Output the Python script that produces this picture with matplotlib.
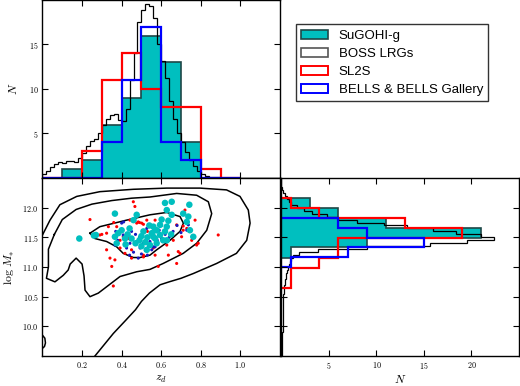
import numpy as np
import matplotlib
matplotlib.use("Agg")
import matplotlib.pyplot as plt
from matplotlib.patches import Patch
from matplotlib.ticker import FuncFormatter

plt.rcParams['mathtext.fontset'] = 'cm'

# ---------------- data ----------------
# redshift histograms (bins of 0.1)
z_edges = [0.0, 0.1, 0.2, 0.3, 0.4, 0.5, 0.6, 0.7, 0.8, 0.9, 1.0]
sugohi_z = [0, 1, 2, 6, 9, 16, 13, 4, 0, 0]
sl2s_z = [0, 0, 3, 11, 14, 10, 8, 8, 1, 0]
bells_z = [0, 0, 0, 4, 11, 17, 4, 2, 0, 0]

# BOSS LRG redshift distribution (scaled), bins of 0.02 from 0 to 1.2
boss_z_edges = [round(0.02 * i, 2) for i in range(61)]
boss_z = [0.4, 0.8, 1.2, 1.6, 1.85, 1.7, 1.9, 1.95, 1.85, 2.2,
          2.8, 3.6, 4.1, 4.4, 5.1, 6.0, 6.6, 7.1, 7.2, 6.5,
          6.4, 7.8, 11.0, 14.0, 17.5, 18.9, 19.6, 19.3, 18.0, 15.0,
          13.2, 11.2, 8.6, 6.6, 5.0, 4.0, 2.9, 2.0, 1.4, 0.8,
          0.45, 0.25, 0.15, 0.1, 0.06, 0.05, 0.04, 0.03, 0.03, 0.02,
          0.02, 0.02, 0.01, 0.01, 0.01, 0.01, 0.0, 0.0, 0.0, 0.0]

# stellar-mass histograms
sugohi_m_edges = [11.16, 11.33, 11.49, 11.66, 11.82, 11.99, 12.16]
sugohi_m = [1, 9, 21, 11, 6, 3]
sl2s_m_edges = [10.65, 10.82, 10.99, 11.16, 11.32, 11.49, 11.66, 11.83, 12.00, 12.17]
sl2s_m = [1, 1, 4, 6, 6, 19, 13, 4, 1]
bells_m_edges = [11.00, 11.165, 11.33, 11.495, 11.66, 11.826]
bells_m = [1, 7, 15, 9, 6]

# BOSS LRG stellar-mass distribution (scaled), bins of 0.05 from 9.5 to 12.5
boss_m_edges = [round(9.5 + 0.05 * i, 2) for i in range(61)]
boss_m = [0.05, 0.05, 0.06, 0.07, 0.08, 0.09, 0.10, 0.11, 0.12, 0.13,
          0.13, 0.14, 0.14, 0.15, 0.15, 0.16, 0.16, 0.17, 0.17, 0.18,
          0.2, 0.22, 0.25, 0.3, 0.35, 0.4, 0.45, 0.5, 0.6, 0.65,
          0.75, 0.85, 1.0, 1.2, 1.8, 3.8, 9.0, 15.6, 19.5, 22.4,
          21.0, 18.4, 16.0, 13.2, 10.8, 8.0, 6.0, 4.8, 3.2, 2.4,
          1.6, 1.0, 0.8, 0.6, 0.4, 0.2, 0.05, 0.0, 0.0, 0.0]

# BOSS LRG density contours (z, logM)
c_outer_z = [0.0, 0.038, 0.088, 0.173, 0.29, 0.459, 0.628, 0.796, 0.93, 0.998,
             1.04, 1.049, 1.032, 0.98, 0.88, 0.762, 0.70, 0.64, 0.594, 0.54,
             0.50, 0.47, 0.42, 0.358, 0.265]
c_outer_m = [11.54, 11.79, 12.05, 12.19, 12.27, 12.31, 12.33, 12.33, 12.30, 12.19,
             11.96, 11.74, 11.45, 11.23, 11.06, 10.89, 10.81, 10.75, 10.70, 10.56,
             10.42, 10.28, 10.10, 9.88, 9.5]
c_mid_z = [0.06, 0.10, 0.17, 0.25, 0.35, 0.45, 0.543, 0.678, 0.779, 0.838,
           0.855, 0.83, 0.779, 0.711, 0.61, 0.543, 0.476, 0.392, 0.282, 0.24,
           0.215, 0.21, 0.20, 0.17, 0.14, 0.13, 0.105, 0.063, 0.02, 0.03,
           0.03, 0.06]
c_mid_m = [11.55, 11.8, 11.97, 12.06, 12.12, 12.16, 12.18, 12.24, 12.21, 12.10,
           11.90, 11.62, 11.40, 11.23, 11.06, 10.96, 10.92, 10.84, 10.56, 10.5,
           10.61, 10.85, 11.05, 11.15, 11.05, 10.95, 10.86, 10.75, 10.81, 11.0,
           11.3, 11.55]
c_in_z = [0.24, 0.29, 0.425, 0.543, 0.628, 0.695, 0.712, 0.695, 0.644, 0.577,
          0.543, 0.493, 0.459, 0.408, 0.375, 0.324, 0.265, 0.24]
c_in_m = [11.57, 11.68, 11.79, 11.88, 11.92, 11.85, 11.74, 11.6, 11.45, 11.29,
          11.2, 11.16, 11.16, 11.23, 11.34, 11.43, 11.48, 11.57]
c_small_z = [0.0, 0.012, 0.015, 0.01, 0.0]
c_small_m = [9.85, 9.8, 9.72, 9.66, 9.63]

# lens samples (z_d, log M*)
sugohi_pts_z = [0.186, 0.27, 0.26, 0.366, 0.476, 0.46, 0.40, 0.383, 0.375, 0.366,
                0.417, 0.45, 0.49, 0.51, 0.543, 0.57, 0.56, 0.527, 0.619, 0.653,
                0.742, 0.628, 0.711, 0.737, 0.653, 0.602, 0.636, 0.729, 0.594, 0.628,
                0.56, 0.577, 0.619, 0.552, 0.594, 0.569, 0.61, 0.577, 0.628, 0.762,
                0.745, 0.43, 0.44, 0.50, 0.52, 0.47, 0.42, 0.53, 0.65, 0.50, 0.54]
sugohi_pts_m = [11.48, 11.54, 11.53, 11.90, 11.88, 11.79, 11.62, 11.57, 11.40, 11.51,
                11.48, 11.48, 11.45, 11.60, 11.37, 11.62, 11.51, 11.29, 12.08, 12.10,
                12.05, 11.96, 11.90, 11.85, 11.88, 11.80, 11.78, 11.76, 11.71, 11.68,
                11.68, 11.62, 11.60, 11.57, 11.54, 11.48, 11.45, 11.40, 11.45, 11.51,
                11.62, 11.55, 11.65, 11.52, 11.42, 11.40, 11.38, 11.50, 11.55, 11.35, 11.70]
sl2s_pts_z = [0.24, 0.29, 0.333, 0.324, 0.341, 0.366, 0.35, 0.358, 0.459, 0.467,
              0.484, 0.501, 0.527, 0.392, 0.392, 0.417, 0.45, 0.51, 0.585, 0.695,
              0.678, 0.703, 0.729, 0.771, 0.754, 0.787, 0.779, 0.888, 0.602, 0.636,
              0.711, 0.408, 0.56, 0.628, 0.661, 0.375, 0.324, 0.30, 0.434, 0.476,
              0.49, 0.51, 0.442, 0.45, 0.51, 0.72, 0.711, 0.678, 0.686, 0.636,
              0.569, 0.653, 0.569, 0.36, 0.53]
sl2s_pts_m = [11.80, 11.54, 11.68, 11.29, 11.15, 11.12, 11.01, 10.68, 12.10, 12.02,
              11.76, 11.74, 11.79, 11.45, 11.32, 11.23, 11.15, 11.17, 11.01, 11.23,
              11.06, 11.51, 11.65, 11.79, 11.45, 11.40, 11.37, 11.54, 11.79, 11.79,
              11.62, 11.51, 11.32, 11.37, 11.45, 11.68, 11.57, 11.55, 11.48, 11.74,
              11.75, 11.72, 11.79, 11.29, 11.20, 11.96, 11.69, 11.71, 11.26, 11.20,
              11.20, 11.54, 11.79, 11.75, 11.60]
bells_pts_z = [0.40, 0.41, 0.366, 0.425, 0.442, 0.493, 0.484, 0.527, 0.569, 0.552,
               0.476, 0.408, 0.543, 0.56, 0.737, 0.729, 0.602, 0.46, 0.50, 0.52,
               0.535, 0.58, 0.62, 0.64, 0.60, 0.66, 0.45, 0.38, 0.37, 0.47,
               0.55, 0.59, 0.51, 0.44, 0.70, 0.68, 0.53, 0.49]
bells_pts_m = [11.74, 11.76, 11.37, 11.32, 11.40, 11.32, 11.15, 11.65, 11.34, 11.29,
               11.43, 11.54, 11.43, 11.34, 11.71, 11.62, 11.48, 11.25, 11.22, 11.28,
               11.35, 11.45, 11.55, 11.50, 11.70, 11.60, 11.60, 11.45, 11.60, 11.55,
               11.55, 11.62, 11.40, 11.20, 11.58, 11.70, 11.20, 11.50]

labels = ["SuGOHI-g", "BOSS LRGs", "SL2S", "BELLS & BELLS Gallery"]

# ---------------- style ----------------
CYAN = (0.0, 0.75, 0.75)
CEDGE = '#1f4747'
RED = (1.0, 0.0, 0.0)
BLUE = (0.0, 0.0, 1.0)
DBLUE = (0.1, 0.1, 0.75)
tick_fs = 5.8
lab_fs = 8.5

fig = plt.figure(figsize=(5.2, 3.86), dpi=100)
ax_top = fig.add_axes([0.0817, 0.5389, 0.4567, 0.4611])
ax_sc = fig.add_axes([0.0817, 0.0777, 0.4567, 0.4611])
ax_r = fig.add_axes([0.5412, 0.0777, 0.4568, 0.4611])

for ax in (ax_top, ax_sc, ax_r):
    ax.tick_params(direction='in', top=True, right=True, length=4, width=0.8,
                   labelsize=tick_fs, pad=3)
    for s in ax.spines.values():
        s.set_linewidth(1.0)

fmt1 = FuncFormatter(lambda v, p: r'$%.1f$' % v)
fmt0 = FuncFormatter(lambda v, p: r'$%d$' % v)

# top histogram
ax_top.stairs(sugohi_z, z_edges, fill=True, facecolor=CYAN, edgecolor=CEDGE, lw=1.2)
ax_top.stairs(boss_z, boss_z_edges, color='k', lw=0.9)
ax_top.stairs(sl2s_z, z_edges, color=RED, lw=1.6)
ax_top.stairs(bells_z, z_edges, color=BLUE, lw=1.6)
ax_top.set_xlim(0, 1.2)
ax_top.set_ylim(0, 20)
ax_top.set_xticks([0.2, 0.4, 0.6, 0.8, 1.0])
ax_top.set_xticklabels([])
ax_top.set_yticks([5, 10, 15])
ax_top.yaxis.set_major_formatter(fmt0)
ax_top.set_ylabel(r'$N$', fontsize=lab_fs, labelpad=6)

# scatter with contours
ax_sc.plot(c_outer_z, c_outer_m, color='k', lw=1.1)
ax_sc.plot(c_mid_z, c_mid_m, color='k', lw=1.1)
ax_sc.plot(c_in_z, c_in_m, color='k', lw=1.1)
ax_sc.plot(c_small_z, c_small_m, color='k', lw=1.1)
ax_sc.scatter(sl2s_pts_z, sl2s_pts_m, s=5, color=RED, edgecolors='none', zorder=3)
ax_sc.scatter(bells_pts_z, bells_pts_m, s=5, color=DBLUE, edgecolors='none', zorder=3)
ax_sc.scatter(sugohi_pts_z, sugohi_pts_m, s=22, color=CYAN, edgecolors='none', zorder=4)
ax_sc.set_xlim(0, 1.2)
ax_sc.set_ylim(9.5, 12.5)
ax_sc.set_xticks([0.2, 0.4, 0.6, 0.8, 1.0])
ax_sc.set_yticks([10.0, 10.5, 11.0, 11.5, 12.0])
ax_sc.xaxis.set_major_formatter(fmt1)
ax_sc.yaxis.set_major_formatter(fmt1)
ax_sc.set_xlabel(r'$z_d$', fontsize=lab_fs, labelpad=1)
ax_sc.set_ylabel(r'$\log\,M_{*}$', fontsize=lab_fs, labelpad=4)

# right histogram
ax_r.stairs(sugohi_m, sugohi_m_edges, orientation='horizontal', fill=True,
            facecolor=CYAN, edgecolor=CEDGE, lw=1.2)
ax_r.stairs(boss_m, boss_m_edges, orientation='horizontal', color='k', lw=0.9)
ax_r.stairs(sl2s_m, sl2s_m_edges, orientation='horizontal', color=RED, lw=1.6)
ax_r.stairs(bells_m, bells_m_edges, orientation='horizontal', color=BLUE, lw=1.6)
ax_r.set_xlim(0, 25)
ax_r.set_ylim(9.5, 12.5)
ax_r.set_xticks([5, 10, 15, 20])
ax_r.xaxis.set_major_formatter(fmt0)
ax_r.set_yticks([10.0, 10.5, 11.0, 11.5, 12.0])
ax_r.set_yticklabels([])
ax_r.set_xlabel(r'$N$', fontsize=lab_fs, labelpad=1)

# legend
handles = [Patch(facecolor=CYAN, edgecolor=CEDGE, lw=1.2),
           Patch(facecolor='white', edgecolor='#555555', lw=1.2),
           Patch(facecolor='white', edgecolor=RED, lw=1.4),
           Patch(facecolor='white', edgecolor=BLUE, lw=1.4)]
leg = fig.legend(handles, labels, loc='upper left', bbox_to_anchor=(0.5687, 0.937),
                 borderaxespad=0, frameon=True, fancybox=False,
                 prop={'family': 'Liberation Sans', 'size': 9.5},
                 handlelength=2.05, handleheight=0.75, handletextpad=0.8,
                 labelspacing=0.42, borderpad=0.4)
leg.get_frame().set_edgecolor('k')
leg.get_frame().set_linewidth(1.0)

fig.savefig('out.png', dpi=100)
